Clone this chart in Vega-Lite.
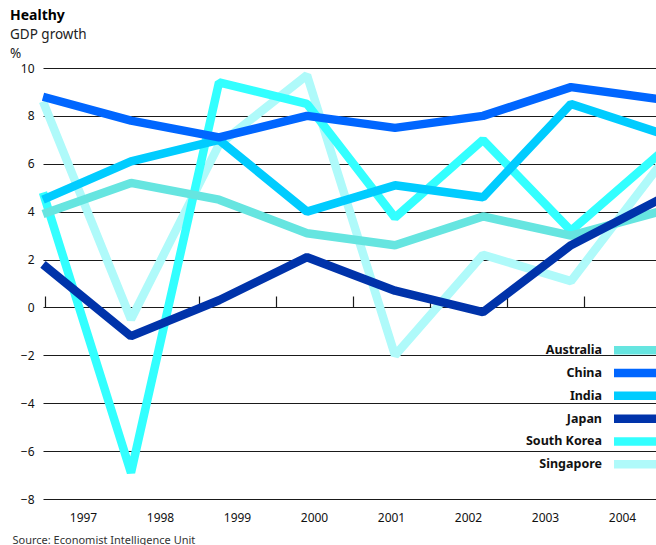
{
  "$schema": "https://vega.github.io/schema/vega-lite/v6.json",
  "width": 611,
  "height": 431,
  "autosize": {"type": "none"},
  "padding": {"left": 45, "top": 68, "right": 0, "bottom": 46},
  "background": "white",
  "config": {
    "font": "Noto Sans",
    "view": {"stroke": null},
    "axis": {"labelColor": "#111", "labelFont": "Noto Sans"},
    "legend": {"labelFont": "Noto Sans"}
  },
  "title": {
    "text": "Healthy",
    "subtitle": ["GDP growth", "%"],
    "anchor": "start",
    "frame": "group",
    "dx": -35,
    "offset": 2,
    "fontSize": 14,
    "fontWeight": "bold",
    "color": "#000",
    "subtitleFontSize": 13.5,
    "subtitleColor": "#222",
    "subtitleLineHeight": 18.5,
    "subtitlePadding": 5
  },
  "data": {
    "values": [
      {"country": "Singapore", "year": 1997, "growth": 8.6},
      {"country": "Singapore", "year": 1998, "growth": -0.5},
      {"country": "Singapore", "year": 1999, "growth": 6.8},
      {"country": "Singapore", "year": 2000, "growth": 9.7},
      {"country": "Singapore", "year": 2001, "growth": -2.0},
      {"country": "Singapore", "year": 2002, "growth": 2.2},
      {"country": "Singapore", "year": 2003, "growth": 1.1},
      {"country": "Singapore", "year": 2004, "growth": 5.9},
      {"country": "South Korea", "year": 1997, "growth": 4.8},
      {"country": "South Korea", "year": 1998, "growth": -6.9},
      {"country": "South Korea", "year": 1999, "growth": 9.4},
      {"country": "South Korea", "year": 2000, "growth": 8.5},
      {"country": "South Korea", "year": 2001, "growth": 3.75},
      {"country": "South Korea", "year": 2002, "growth": 7.0},
      {"country": "South Korea", "year": 2003, "growth": 3.2},
      {"country": "South Korea", "year": 2004, "growth": 6.4},
      {"country": "Australia", "year": 1997, "growth": 3.9},
      {"country": "Australia", "year": 1998, "growth": 5.2},
      {"country": "Australia", "year": 1999, "growth": 4.5},
      {"country": "Australia", "year": 2000, "growth": 3.1},
      {"country": "Australia", "year": 2001, "growth": 2.6},
      {"country": "Australia", "year": 2002, "growth": 3.8},
      {"country": "Australia", "year": 2003, "growth": 3.0},
      {"country": "Australia", "year": 2004, "growth": 4.0},
      {"country": "India", "year": 1997, "growth": 4.5},
      {"country": "India", "year": 1998, "growth": 6.1},
      {"country": "India", "year": 1999, "growth": 7.0},
      {"country": "India", "year": 2000, "growth": 4.0},
      {"country": "India", "year": 2001, "growth": 5.1},
      {"country": "India", "year": 2002, "growth": 4.6},
      {"country": "India", "year": 2003, "growth": 8.5},
      {"country": "India", "year": 2004, "growth": 7.3},
      {"country": "Japan", "year": 1997, "growth": 1.8},
      {"country": "Japan", "year": 1998, "growth": -1.2},
      {"country": "Japan", "year": 1999, "growth": 0.3},
      {"country": "Japan", "year": 2000, "growth": 2.1},
      {"country": "Japan", "year": 2001, "growth": 0.7},
      {"country": "Japan", "year": 2002, "growth": -0.2},
      {"country": "Japan", "year": 2003, "growth": 2.6},
      {"country": "Japan", "year": 2004, "growth": 4.5},
      {"country": "China", "year": 1997, "growth": 8.8},
      {"country": "China", "year": 1998, "growth": 7.8},
      {"country": "China", "year": 1999, "growth": 7.1},
      {"country": "China", "year": 2000, "growth": 8.0},
      {"country": "China", "year": 2001, "growth": 7.5},
      {"country": "China", "year": 2002, "growth": 8.0},
      {"country": "China", "year": 2003, "growth": 9.2},
      {"country": "China", "year": 2004, "growth": 8.7}
    ]
  },
  "layer": [
    {
      "mark": {"type": "line", "strokeWidth": 8.5, "strokeJoin": "bevel"},
      "encoding": {
        "x": {
          "field": "year",
          "type": "quantitative",
          "scale": {"domain": [1997, 2004], "range": [-2, 614], "nice": false, "zero": false},
          "axis": null
        },
        "y": {
          "field": "growth",
          "type": "quantitative",
          "scale": {"domain": [-8, 10], "nice": false, "zero": false},
          "axis": {
            "values": [-8, -6, -4, -2, 0, 2, 4, 6, 8, 10],
            "grid": true,
            "gridColor": "#1a1a1a",
            "gridWidth": 1.2,
            "gridOpacity": 1,
            "domain": false,
            "ticks": false,
            "labelPadding": 11,
            "labelFontSize": 12,
            "title": null
          }
        },
        "color": {
          "field": "country",
          "type": "nominal",
          "scale": {
            "domain": ["Australia", "China", "India", "Japan", "South Korea", "Singapore"],
            "range": ["#66E5E0", "#0066FF", "#00CCFF", "#0033AA", "#33FFFF", "#AFFAFA"]
          },
          "legend": {
            "orient": "none",
            "legendX": 590,
            "legendY": 276,
            "title": null,
            "padding": 0,
            "symbolType": "M-12.5,-1H12.5V1H-12.5Z",
            "symbolSize": 16,
            "symbolStrokeWidth": 4.5,
            "symbolOpacity": 1,
            "labelAlign": "right",
            "labelOffset": -45.5,
            "labelFontSize": 12.5,
            "labelFontWeight": "bold",
            "labelColor": "#111",
            "rowPadding": -0.2
          }
        }
      }
    },
    {
      "mark": {"type": "rule", "opacity": 0},
      "encoding": {
        "x": {
          "field": "year",
          "type": "ordinal",
          "scale": {"type": "band", "range": [0, 616], "paddingInner": 0, "paddingOuter": 0},
          "axis": {
            "orient": "bottom",
            "ticks": false,
            "domain": false,
            "labelAngle": 0,
            "labelPadding": 13,
            "labelFontSize": 12,
            "title": "Source: Economist Intelligence Unit",
            "titleX": -33,
            "titleY": 44,
            "titleAlign": "left",
            "titleAnchor": "start",
            "titleBaseline": "alphabetic",
            "titleFontSize": 11,
            "titleFontWeight": "normal",
            "titleColor": "#333"
          }
        }
      }
    },
    {
      "mark": {"type": "rule", "opacity": 0},
      "encoding": {
        "x": {
          "field": "year",
          "type": "ordinal",
          "scale": {"type": "band", "range": [0, 616], "paddingInner": 0, "paddingOuter": 0},
          "axis": {
            "orient": "top",
            "offset": -239,
            "labels": false,
            "domain": false,
            "ticks": true,
            "tickBand": "extent",
            "tickSize": 11,
            "tickColor": "#1a1a1a",
            "tickWidth": 1.2,
            "title": null
          }
        }
      }
    }
  ],
  "resolve": {"scale": {"x": "independent"}, "axis": {"x": "independent"}}
}
